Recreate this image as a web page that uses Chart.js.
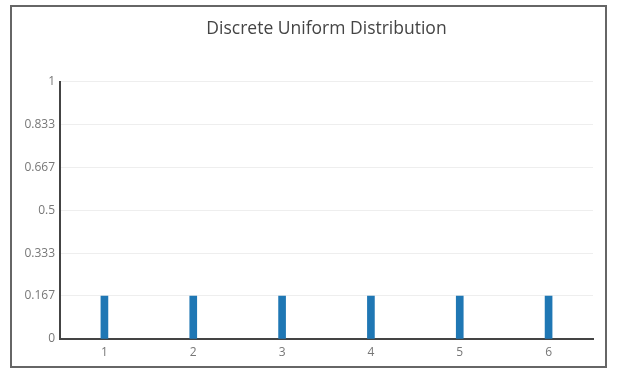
<!DOCTYPE html>
<html>
<head>
<meta charset="utf-8">
<script src="https://cdn.jsdelivr.net/npm/chart.js@4"></script>
<style>
  html, body { margin: 0; padding: 0; background: #fff; }
  #wrap { width: 620px; height: 373px; }
</style>
</head>
<body>
<div id="wrap"><canvas id="c" width="620" height="373"></canvas></div>
<script>
  // die faces and their probability (1/6 each)
  const faces = ['1', '2', '3', '4', '5', '6'];
  const probs = [0.167, 0.167, 0.167, 0.167, 0.167, 0.167];
  const yTicks = [0, 0.167, 0.333, 0.5, 0.667, 0.833, 1];

  const BLUE = '#1f77b4', AXIS = '#444', GRID = '#eee', TXT = '#777';

  // grey frame round the whole figure
  const frame = {
    id: 'frame',
    beforeDraw(c) {
      const ctx = c.ctx;
      ctx.save();
      ctx.strokeStyle = '#666'; ctx.lineWidth = 2;
      ctx.strokeRect(11, 6, 595, 361);
      ctx.restore();
    }
  };

  // centre the title over the plot area rather than the whole canvas
  const titleOverPlot = {
    id: 'titleOverPlot',
    afterLayout(c) {
      const t = c.titleBlock; if (!t) return;
      t.left = c.chartArea.left; t.right = c.chartArea.right;
      t.width = t.right - t.left;
    }
  };

  new Chart(document.getElementById('c'), {
    type: 'bar',
    data: {
      labels: faces,
      datasets: [{ data: probs, backgroundColor: BLUE, barThickness: 7 }]
    },
    options: {
      responsive: false, animation: false,
      layout: { padding: { left: 0, right: 27, top: 0, bottom: 0 } },
      scales: {
        x: {
          grid: { display: false, drawTicks: false },
          border: { color: AXIS, width: 2 },
          ticks: { color: TXT, padding: 6, font: { family: 'Open Sans', size: 12 } },
          afterFit: (s) => { s.height = 34; }
        },
        y: {
          min: 0, max: 1,
          grid: { color: GRID, drawTicks: false },
          border: { color: AXIS, width: 2 },
          ticks: { color: TXT, padding: 5, font: { family: 'Open Sans', size: 12 },
                   callback: (v) => String(v) },
          afterBuildTicks: (s) => { s.ticks = yTicks.map(v => ({ value: v })); },
          afterFit: (s) => { s.width = 60; }
        }
      },
      plugins: {
        legend: { display: false },
        tooltip: { enabled: false },
        title: {
          display: true, text: 'Discrete Uniform Distribution', color: '#444',
          font: { family: 'Open Sans', size: 17.5, weight: 'normal', lineHeight: 1.2 },
          padding: { top: 19, bottom: 41.5 }
        }
      }
    },
    plugins: [frame, titleOverPlot]
  });
</script>
</body>
</html>
